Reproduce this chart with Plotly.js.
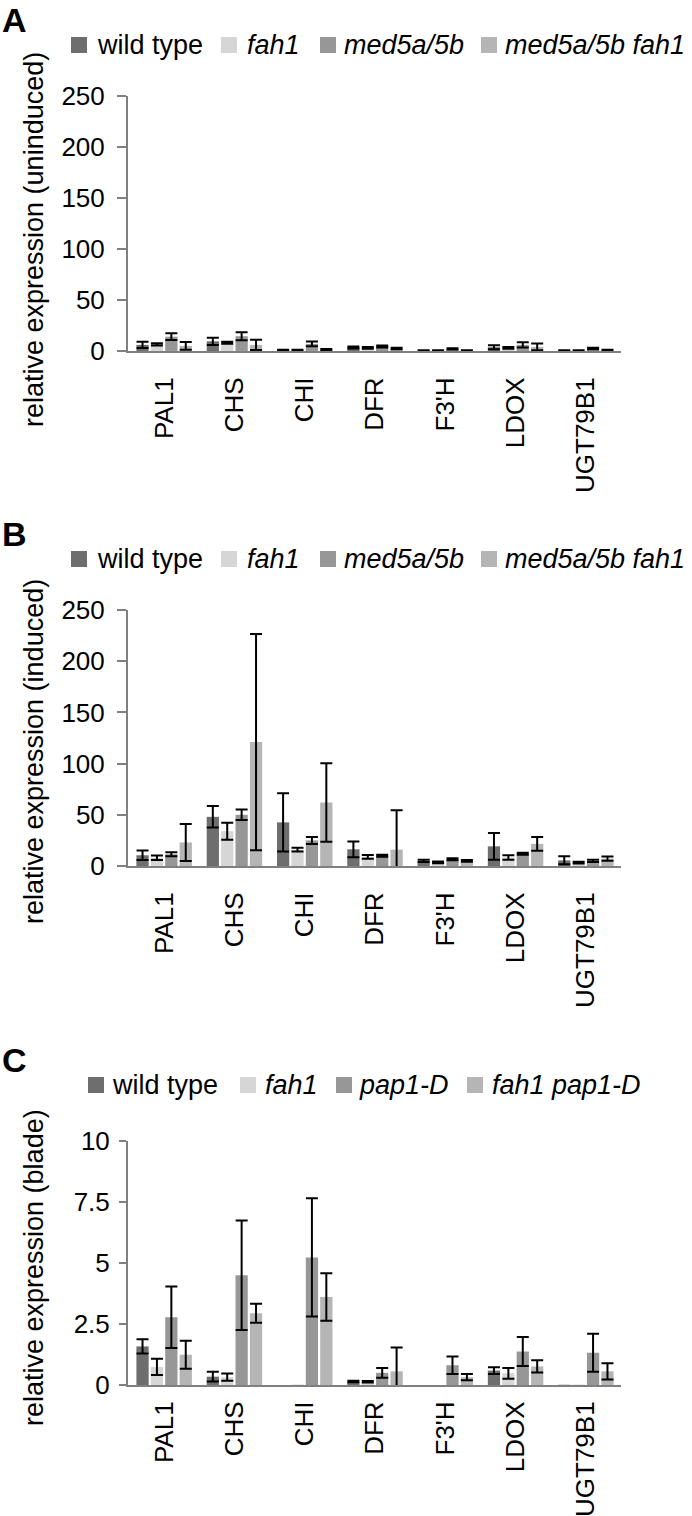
<!DOCTYPE html>
<html>
<head>
<meta charset="utf-8">
<script src="https://cdn.plot.ly/plotly-3.0.1.min.js"></script>
<style>
  html, body { margin: 0; padding: 0; background: white; }
  #chart { width: 692px; height: 1516px; }
</style>
</head>
<body>
<div id="chart"></div>
<script>
const genes = ['PAL1', 'CHS', 'CHI', 'DFR', "F3'H", 'LDOX', 'UGT79B1']
const medLabels = ['wild type', 'fah1', 'med5a/5b', 'med5a/5b fah1']
const papLabels = ['wild type', 'fah1', 'pap1-D', 'fah1 pap1-D']
const panelLetters = ['A', 'B', 'C']
const panelTitles = ['relative expression (uninduced)', 'relative expression (induced)', 'relative expression (blade)']

// A - uninduced
const uninducedWT = [6, 9.5, 1, 3.5, 0.5, 3.7, 0.5]
const uninducedFah1 = [6.5, 8, 1, 3, 0.5, 3, 0.5]
const uninducedMed = [14, 14.5, 7, 4.5, 2, 6, 2.5]
const uninducedMedFah1 = [5, 6, 1.5, 2.5, 0.5, 4, 1]
const uninducedWTErr = [3, 3.5, 0.3, 1, 0.2, 2, 0.2]
const uninducedFah1Err = [1, 1, 0.3, 0.8, 0.2, 0.8, 0.2]
const uninducedMedErr = [3.3, 4, 2.3, 1, 0.6, 2.5, 0.7]
const uninducedMedFah1Err = [3.8, 5, 0.4, 0.8, 0.2, 3.3, 0.3]

// B - induced
const inducedWT = [10.5, 48, 42.6, 16.3, 5, 19.2, 5.5]
const inducedFah1 = [8, 34, 16, 9, 3.5, 8.3, 3.3]
const inducedMed = [11.5, 50, 25, 10, 6.5, 12, 5]
const inducedMedFah1 = [23, 121, 62, 16, 5, 21.6, 7.2]
const inducedWTErr = [4.6, 10.5, 28.5, 7.7, 1, 13, 3.9]
const inducedFah1Err = [2.2, 8.3, 1.8, 1.8, 0.8, 2.1, 0.8]
const inducedMedErr = [2, 5.2, 3.4, 1, 1, 1, 1]
const inducedMedFah1Err = [18, 105.6, 38.3, 38.5, 0.8, 6.7, 2]

// C - blade
const bladeWT = [1.58, 0.34, 0, 0.14, 0, 0.59, 0.01]
const bladeFah1 = [0.74, 0.32, 0.02, 0.13, 0, 0.48, 0.02]
const bladePap = [2.77, 4.49, 5.22, 0.5, 0.81, 1.37, 1.32]
const bladeFah1Pap = [1.24, 2.94, 3.6, 0.56, 0.32, 0.76, 0.56]
const bladeWTErr = [0.29, 0.2, NaN, 0.03, NaN, 0.14, NaN]
const bladeFah1Err = [0.33, 0.15, NaN, 0.03, NaN, 0.22, NaN]
const bladePapErr = [1.26, 2.24, 2.42, 0.2, 0.36, 0.59, 0.78]
const bladeFah1PapErr = [0.57, 0.39, 0.97, 0.97, 0.13, 0.25, 0.33]

const W = 692, H = 1516
const seriesColors = ['#6e6e6e', '#d6d6d6', '#979797', '#b5b5b5']
const axisGray = '#808080'
const fontFamily = 'Liberation Sans, Arial, sans-serif'

function px(x) { return x / W }
function py(y) { return 1 - y / H }

// pixel boxes of the three plot areas (top tick, zero line)
const plotLeft = 128, plotRight = 621
const panelTop = [96, 610, 1140.7]
const panelBottom = [351, 866, 1385]
const legendY = [45, 559, 1085]
const legendMarkX = [[71, 221, 320, 481], [71, 221, 320, 481], [88, 240, 336, 467]]
const legendTextX = [[95, 245, 342, 503], [95, 245, 342, 503], [110, 263, 357, 490]]
const titleY = [240, 752, 1268]

function makeBars(values, errors, axisIdx, names) {
  let suffix = axisIdx == 1 ? '' : axisIdx
  return values.map((v, i) => ({
    type: 'bar',
    name: names[i],
    x: genes,
    y: v,
    xaxis: 'x' + suffix,
    yaxis: 'y' + suffix,
    marker: { color: seriesColors[i], line: { width: 0 } },
    error_y: { type: 'data', array: errors[i], visible: true, color: '#000', thickness: 2, width: 6 },
    cliponaxis: false,
    hoverinfo: 'skip'
  }))
}

let data = []
  .concat(makeBars([uninducedWT, uninducedFah1, uninducedMed, uninducedMedFah1],
    [uninducedWTErr, uninducedFah1Err, uninducedMedErr, uninducedMedFah1Err], 1, medLabels))
  .concat(makeBars([inducedWT, inducedFah1, inducedMed, inducedMedFah1],
    [inducedWTErr, inducedFah1Err, inducedMedErr, inducedMedFah1Err], 2, medLabels))
  .concat(makeBars([bladeWT, bladeFah1, bladePap, bladeFah1Pap],
    [bladeWTErr, bladeFah1Err, bladePapErr, bladeFah1PapErr], 3, papLabels))

function xAxis(anchor, standoff) {
  return {
    domain: [px(plotLeft), px(plotRight)],
    anchor: anchor,
    type: 'category',
    showline: true, linecolor: axisGray, linewidth: 2,
    ticks: '', tickangle: -90,
    tickfont: { size: 26, color: '#000' },
    ticklabelstandoff: standoff,
    showgrid: false, zeroline: false, fixedrange: true
  }
}

function yAxis(anchor, i, range, dtick, ticklen, standoff) {
  return {
    domain: [py(panelBottom[i]), py(panelTop[i])],
    anchor: anchor,
    range: range,
    dtick: dtick, tick0: 0,
    showline: true, linecolor: axisGray, linewidth: 2,
    ticks: 'outside', ticklen: ticklen, tickwidth: 2, tickcolor: axisGray,
    tickfont: { size: 26, color: '#000' },
    ticklabelstandoff: standoff,
    showgrid: false, zeroline: false, fixedrange: true
  }
}

let shapes = []
let annotations = []

for (let p = 0; p < 3; p++) {
  let labels = p == 2 ? papLabels : medLabels
  let suffix = p == 0 ? '' : p + 1

  annotations.push({
    text: '<b>' + panelLetters[p] + '</b>', showarrow: false,
    xref: 'paper', yref: 'paper', x: px(0), xanchor: 'left',
    y: py(legendY[p] - 25), yanchor: 'middle',
    font: { size: 34, color: '#000', family: fontFamily }
  })

  annotations.push({
    text: panelTitles[p], showarrow: false, textangle: -90,
    xref: 'paper', yref: 'paper', x: px(34), xanchor: 'center',
    y: py(titleY[p]), yanchor: 'middle',
    font: { size: 27, color: '#000', family: fontFamily }
  })

  labels.forEach((label, i) => {
    let mx = legendMarkX[p][i]
    shapes.push({
      type: 'rect', xref: 'paper', yref: 'paper',
      x0: px(mx), x1: px(mx + 16), y0: py(legendY[p] + 8), y1: py(legendY[p] - 8),
      fillcolor: seriesColors[i], line: { width: 0 }
    })
    annotations.push({
      text: i == 0 ? label : '<i>' + label + '</i>', showarrow: false,
      xref: 'paper', yref: 'paper', x: px(legendTextX[p][i]), xanchor: 'left',
      y: py(legendY[p]), yanchor: 'middle',
      font: { size: 27, color: '#000', family: fontFamily }
    })
  })

  // small tick of the value axis below the category axis
  shapes.push({
    type: 'line', xref: 'x' + suffix, yref: 'y' + suffix,
    x0: -0.5, x1: -0.5, ysizemode: 'pixel', yanchor: 0, y0: 0, y1: -9,
    line: { color: axisGray, width: 2 }
  })
}

let layout = {
  width: W, height: H,
  margin: { l: 0, r: 0, t: 0, b: 0 },
  paper_bgcolor: 'white', plot_bgcolor: 'white',
  font: { family: fontFamily, color: '#000', size: 26 },
  showlegend: false,
  barmode: 'group', bargap: 0.18, bargroupgap: 0.15,
  xaxis: xAxis('y', 14),
  yaxis: yAxis('x', 0, [0, 250], 50, 9, 7),
  xaxis2: xAxis('y2', 14),
  yaxis2: yAxis('x2', 1, [0, 250], 50, 9, 7),
  xaxis3: xAxis('y3', 4),
  yaxis3: yAxis('x3', 2, [0, 10], 2.5, 7, 4),
  shapes: shapes,
  annotations: annotations
}

Plotly.newPlot('chart', data, layout, { displayModeBar: false, staticPlot: true })
</script>
</body>
</html>
